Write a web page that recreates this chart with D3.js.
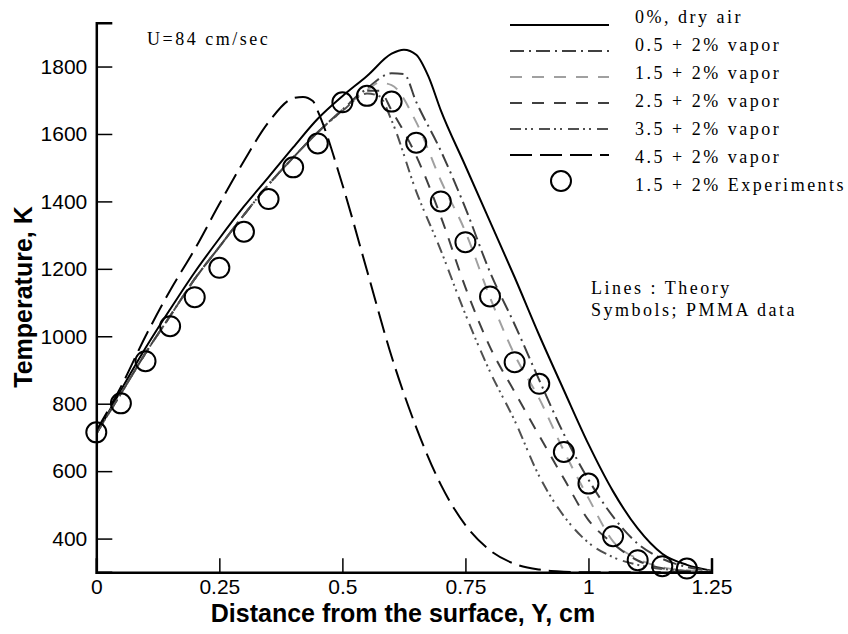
<!DOCTYPE html>
<html>
<head>
<meta charset="utf-8">
<script src="https://cdn.jsdelivr.net/npm/d3@7"></script>
<style>
  body { margin: 0; background: #fff; }
  svg { display: block; }
</style>
</head>
<body>
<svg width="848" height="634"></svg>
<script>
// Theory curves, Y in cm and temperature in K
var dryAirX = [0, 0.05, 0.1, 0.15, 0.2, 0.25, 0.3, 0.35, 0.4, 0.45, 0.5, 0.55, 0.6, 0.625, 0.65, 0.675, 0.7, 0.75, 0.8, 0.85, 0.9, 0.95, 1.0, 1.05, 1.1, 1.15, 1.2, 1.25];
var dryAirT = [710, 840, 965, 1080, 1190, 1290, 1385, 1472, 1560, 1645, 1712, 1772, 1838, 1850, 1835, 1770, 1670, 1505, 1340, 1175, 1003, 840, 680, 540, 430, 355, 322, 305];

var vap05X = [0, 0.05, 0.1, 0.15, 0.2, 0.25, 0.3, 0.35, 0.4, 0.45, 0.5, 0.55, 0.6, 0.625, 0.65, 0.7, 0.75, 0.8, 0.85, 0.9, 0.95, 1.0, 1.05, 1.1, 1.15, 1.2, 1.25];
var vap05T = [712, 830, 950, 1060, 1170, 1265, 1360, 1450, 1530, 1605, 1672, 1735, 1780, 1778, 1695, 1550, 1380, 1190, 1035, 870, 710, 575, 465, 385, 340, 316, 305];

var vap15X = [0, 0.05, 0.1, 0.15, 0.2, 0.25, 0.3, 0.35, 0.4, 0.45, 0.5, 0.55, 0.575, 0.6, 0.65, 0.7, 0.75, 0.8, 0.85, 0.9, 0.95, 1.0, 1.05, 1.1, 1.15, 1.2, 1.25];
var vap15T = [712, 830, 950, 1060, 1170, 1265, 1360, 1450, 1530, 1605, 1672, 1730, 1752, 1745, 1635, 1462, 1310, 1115, 945, 815, 660, 520, 392, 340, 315, 306, 302];

var vap25X = [0, 0.05, 0.1, 0.15, 0.2, 0.25, 0.3, 0.35, 0.4, 0.45, 0.5, 0.55, 0.575, 0.6, 0.65, 0.7, 0.75, 0.8, 0.85, 0.9, 0.95, 1.0, 1.05, 1.1, 1.15, 1.2, 1.25];
var vap25T = [712, 830, 950, 1060, 1170, 1265, 1360, 1450, 1530, 1605, 1670, 1728, 1728, 1670, 1535, 1355, 1145, 968, 835, 705, 578, 455, 385, 335, 312, 304, 301];

var vap35X = [0, 0.05, 0.1, 0.15, 0.2, 0.25, 0.3, 0.35, 0.4, 0.45, 0.5, 0.55, 0.575, 0.6, 0.65, 0.7, 0.75, 0.8, 0.85, 0.9, 0.95, 1.0, 1.05, 1.1, 1.15, 1.2, 1.25];
var vap35T = [712, 830, 950, 1060, 1170, 1265, 1360, 1450, 1530, 1605, 1668, 1720, 1712, 1640, 1430, 1255, 1065, 895, 750, 585, 467, 388, 345, 322, 310, 304, 301];

var vap45X = [0, 0.05, 0.1, 0.15, 0.2, 0.25, 0.3, 0.35, 0.4, 0.42, 0.44, 0.45, 0.5, 0.55, 0.6, 0.65, 0.7, 0.75, 0.8, 0.85, 0.9, 0.95, 1.0, 1.1, 1.25];
var vap45T = [720, 850, 1000, 1136, 1258, 1392, 1520, 1635, 1706, 1710, 1698, 1668, 1450, 1195, 940, 730, 560, 440, 365, 325, 308, 302, 300, 300, 300];

// Experiments (symbols)
var expX = [0, 0.05, 0.1, 0.15, 0.2, 0.25, 0.3, 0.35, 0.4, 0.45, 0.5, 0.55, 0.6, 0.65, 0.7, 0.75, 0.8, 0.85, 0.9, 0.95, 1.0, 1.05, 1.1, 1.15, 1.2];
var expT = [715, 801, 926, 1030, 1116, 1203, 1310, 1407, 1501, 1572, 1694, 1713, 1696, 1574, 1400, 1279, 1118, 923, 859, 657, 563, 407, 336, 318, 311];

var legendLabels = ["0%, dry air", "0.5 + 2% vapor", "1.5 + 2% vapor", "2.5 + 2% vapor", "3.5 + 2% vapor", "4.5 + 2% vapor", "1.5 + 2% Experiments"];

var xMajor = [0, 0.25, 0.5, 0.75, 1, 1.25];
var yMajor = [400, 600, 800, 1000, 1200, 1400, 1600, 1800];

var svg = d3.select("svg");
var serif = "'Liberation Serif', 'Times New Roman', serif";
var sans = "'Liberation Sans', Arial, sans-serif";

var x = d3.scaleLinear().domain([0, 1.25]).range([96.3, 711.5]);
var y = d3.scaleLinear().domain([300, 1930]).range([572.3, 22.7]);

// line styles for each series
var series = [
    { xs: dryAirX, ts: dryAirT, color: "#000", dash: null, w: 2 },
    { xs: vap05X, ts: vap05T, color: "#404040", dash: "14,5,2,5", w: 2 },
    { xs: vap15X, ts: vap15T, color: "#a0a0a0", dash: "12,10", w: 2 },
    { xs: vap25X, ts: vap25T, color: "#404040", dash: "12,10", w: 2 },
    { xs: vap35X, ts: vap35T, color: "#505050", dash: "11,4,2,4,2,6", w: 2 },
    { xs: vap45X, ts: vap45T, color: "#000", dash: "22,8", w: 2 }
];

var line = d3.line()
    .x(function(d) { return x(d[0]); })
    .y(function(d) { return y(d[1]); })
    .curve(d3.curveMonotoneX);

svg.append("clipPath").attr("id", "clip")
  .append("rect")
    .attr("x", x(0)).attr("y", y(1930))
    .attr("width", x(1.25) - x(0)).attr("height", y(300) - y(1930));

var plot = svg.append("g").attr("clip-path", "url(#clip)");

plot.selectAll("path.curve")
    .data(series)
    .enter().append("path")
    .attr("class", "curve")
    .attr("d", function(s) { return line(d3.zip(s.xs, s.ts)); })
    .attr("fill", "none")
    .attr("stroke", function(s) { return s.color; })
    .attr("stroke-width", function(s) { return s.w; })
    .attr("stroke-dasharray", function(s) { return s.dash; });

svg.append("g").selectAll("circle")
    .data(d3.zip(expX, expT))
    .enter().append("circle")
    .attr("cx", function(d) { return x(d[0]); })
    .attr("cy", function(d) { return y(d[1]); })
    .attr("r", 10)
    .attr("fill", "none")
    .attr("stroke", "#000")
    .attr("stroke-width", 2);

//////////////////////////////
// Axes, ticks point inward
var xMinor = d3.range(0, 1.2501, 0.05).filter(function(v) { return Math.abs(v / 0.25 - Math.round(v / 0.25)) > 1e-6; });
var yMinor = d3.range(320, 1921, 40).filter(function(v) { return v % 200 !== 0; });

var xAxisG = svg.append("g").attr("transform", "translate(0," + y(300) + ")");
xAxisG.call(d3.axisBottom(x).tickValues(xMinor).tickSize(-9).tickFormat(""));
xAxisG.call(d3.axisBottom(x).tickValues(xMajor).tickSize(-14).tickPadding(7).tickFormat(d3.format("")));

var yAxisG = svg.append("g").attr("transform", "translate(" + x(0) + ",0)");
yAxisG.call(d3.axisLeft(y).tickValues(yMinor).tickSize(-10).tickFormat(""));
yAxisG.call(d3.axisLeft(y).tickValues(yMajor).tickSize(-16).tickPadding(9).tickFormat(d3.format("d")));

svg.selectAll(".domain").attr("stroke", "#000").attr("stroke-width", 2.5);
svg.selectAll(".tick line").attr("stroke", "#000").attr("stroke-width", 1.5);
svg.selectAll(".tick text").attr("font-family", sans).attr("font-size", 21).attr("fill", "#000");

// axis titles
svg.append("text")
    .attr("x", 403).attr("y", 622)
    .attr("text-anchor", "middle")
    .attr("font-family", sans).attr("font-weight", "bold").attr("font-size", 25)
    .text("Distance from the surface, Y, cm");

svg.append("text")
    .attr("transform", "translate(32,297) rotate(-90)")
    .attr("text-anchor", "middle")
    .attr("font-family", sans).attr("font-weight", "bold").attr("font-size", 25)
    .text("Temperature, K");

// annotations
function note(tx, ty, str) {
    svg.append("text")
        .attr("x", tx).attr("y", ty)
        .attr("font-family", serif).attr("font-size", 18)
        .attr("letter-spacing", 2.5)
        .text(str);
}
note(147, 45, "U=84 cm/sec");
note(591, 294, "Lines : Theory");
note(591, 316, "Symbols; PMMA data");

//////////////////////////////
// Legend
var legend = svg.append("g");
series.forEach(function(s, i) {
    legend.append("line")
        .attr("x1", 510).attr("x2", 609)
        .attr("y1", 25 + i * 26).attr("y2", 25 + i * 26)
        .attr("stroke", s.color)
        .attr("stroke-width", s.w)
        .attr("stroke-dasharray", s.dash);
});
legend.append("circle")
    .attr("cx", 561).attr("cy", 25 + 6 * 26).attr("r", 10)
    .attr("fill", "none").attr("stroke", "#000").attr("stroke-width", 2);

legendLabels.forEach(function(lbl, i) {
    legend.append("text")
        .attr("x", 635).attr("y", 22.7 + i * 28.1)
        .attr("font-family", serif).attr("font-size", 18)
        .attr("letter-spacing", 2.5)
        .text(lbl);
});
</script>
</body>
</html>
